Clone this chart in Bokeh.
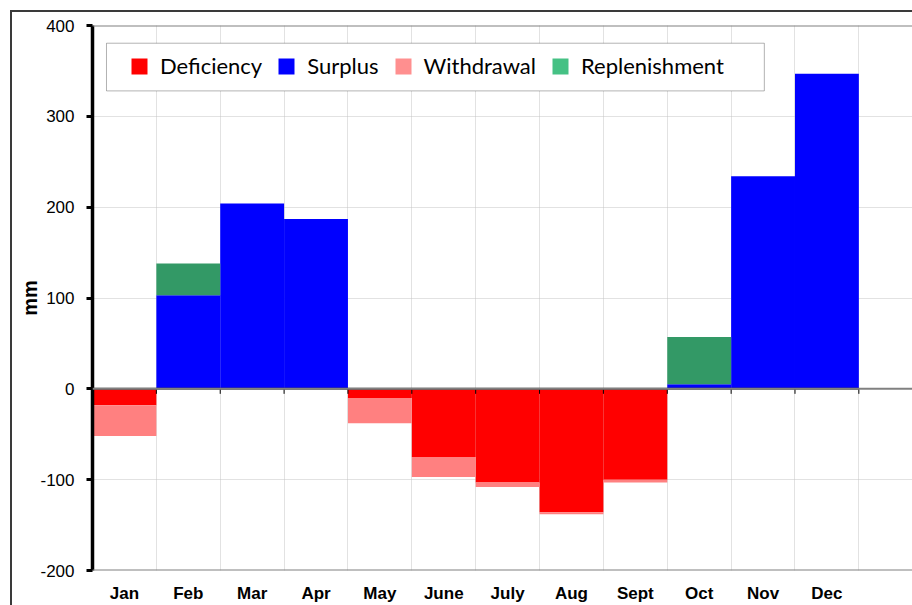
from bokeh.plotting import figure
from bokeh.models import Range1d, FixedTicker, Legend, LegendItem, Span, ColumnDataSource, BoxAnnotation
from bokeh.embed import file_html
from bokeh.resources import INLINE

# ---- data (mm) ----
months = ["Jan", "Feb", "Mar", "Apr", "May", "June", "July", "Aug", "Sept", "Oct", "Nov", "Dec"]
deficiency = [-18, 0, 0, 0, -10, -75, -103, -136, -100, 0, 0, 0]
withdrawal = [-34, 0, 0, 0, -28, -22, -5, -2, -3, 0, 0, 0]
surplus = [0, 103, 204, 187, 0, 0, 0, 0, 0, 5, 234, 347]
replenishment = [0, 35, 0, 0, 0, 0, 0, 0, 0, 52, 0, 0]
y_ticks = [-200, -100, 0, 100, 200, 300, 400]
y_tick_labels = ["-200", "-100", "0", "100", "200", "300", "400"]

series_names = ["Deficiency", "Surplus", "Withdrawal", "Replenishment"]
bar_colors = {"Deficiency": "#FF0000", "Surplus": "#0000FF",
              "Withdrawal": "#FF8080", "Replenishment": "#339966"}
legend_colors = {"Deficiency": "#FF0000", "Surplus": "#0000FF",
                 "Withdrawal": "#FF8F8F", "Replenishment": "#45C184"}

n = len(months)
xs = [i + 0.5 for i in range(n)]
boundaries = list(range(1, n + 1))

src = ColumnDataSource(dict(
    x=xs,
    zero=[0] * n,
    surplus=surplus,
    rep_top=[s + r for s, r in zip(surplus, replenishment)],
    deficiency=deficiency,
    wd_bottom=[d + w for d, w in zip(deficiency, withdrawal)],
))

p = figure(width=912, height=605, x_range=Range1d(0, 12.84), y_range=Range1d(-200, 400),
           output_backend="svg", toolbar_location=None,
           min_border_left=92, min_border_right=0, min_border_top=25, min_border_bottom=34)
p.border_fill_color = None
p.background_fill_color = "white"
p.outline_line_color = None
p.styles = {"box-shadow": "inset 10px 10px 0 0 white, inset 12px 12px 0 0 #3A3A3A"}

# grid
p.xgrid.ticker = FixedTicker(ticks=boundaries)
p.ygrid.ticker = FixedTicker(ticks=y_ticks)
for g in (p.xgrid, p.ygrid):
    g.grid_line_color = "#C4C4C4"
    g.grid_line_dash = "1 1"
    g.grid_line_width = 1

# plot-area top and bottom edges
p.add_layout(Span(location=y_ticks[-1], dimension="width", line_color="#808080", line_width=2))
p.add_layout(Span(location=y_ticks[0], dimension="width", line_color="#808080", line_width=2))

# bars
common = dict(source=src, x="x", width=1, line_color=None)
p.vbar(bottom="zero", top="surplus", fill_color=bar_colors["Surplus"], **common)
p.vbar(bottom="surplus", top="rep_top", fill_color=bar_colors["Replenishment"], **common)
p.vbar(bottom="deficiency", top="zero", fill_color=bar_colors["Deficiency"], **common)
p.vbar(bottom="wd_bottom", top="deficiency", fill_color=bar_colors["Withdrawal"], **common)

# zero line with category ticks
p.add_layout(Span(location=0, dimension="width", line_color="#808080", line_width=2))
p.segment(x0=[0], y0=[0], x1=[n], y1=[0], line_color="black", line_width=2, line_alpha=0.75)
p.segment(x0=boundaries, y0=[0] * n, x1=boundaries, y1=[-5.5] * n, line_color="black", line_width=1)

# axes
ya = p.yaxis[0]
ya.ticker = FixedTicker(ticks=y_ticks)
ya.major_label_overrides = {t: l for t, l in zip(y_ticks, y_tick_labels)}
ya.axis_line_color = "black"
ya.axis_line_width = 3.5
ya.major_tick_line_color = "black"
ya.major_tick_line_width = 3
ya.major_tick_out = 6
ya.major_tick_in = 0
ya.minor_tick_line_color = None
ya.major_label_standoff = 12
ya.major_label_text_font = "Liberation Sans"
ya.major_label_text_font_size = "17px"
ya.major_label_text_color = "black"
ya.axis_label = "mm"
ya.axis_label_text_font = "Liberation Sans"
ya.axis_label_text_font_style = "bold"
ya.axis_label_text_font_size = "20px"
ya.axis_label_text_color = "black"
ya.axis_label_standoff = -4

xa = p.xaxis[0]
xa.ticker = FixedTicker(ticks=xs)
xa.major_label_overrides = {x: m for x, m in zip(xs, months)}
xa.axis_line_color = None
xa.major_tick_line_color = None
xa.major_tick_out = 0
xa.major_tick_in = 0
xa.minor_tick_line_color = None
xa.major_label_standoff = 13
xa.major_label_text_font = "Liberation Sans"
xa.major_label_text_font_style = "bold"
xa.major_label_text_font_size = "17px"
xa.major_label_text_color = "black"

# legend frame (white box hiding the grid) and legend entries
p.add_layout(BoxAnnotation(left=0.219, right=10.52, top=380.5, bottom=328,
                           fill_color="white", fill_alpha=1,
                           line_color="black", line_width=1, level="annotation"))
items = []
for name in series_names:
    r = p.vbar(x=[xs[0]], top=[0], bottom=[0], width=[0], fill_color=legend_colors[name],
               line_color=None)
    items.append(LegendItem(label=name, renderers=[r]))
legend = Legend(items=items, orientation="horizontal", location=(37, 491),
                padding=10, spacing=14, glyph_width=20, glyph_height=20, label_standoff=11,
                label_text_font="Lato", label_text_font_size="22px", label_text_color="black",
                border_line_color=None, background_fill_color=None, margin=0)
p.add_layout(legend)

open("out.html", "w").write(file_html(p, INLINE))
